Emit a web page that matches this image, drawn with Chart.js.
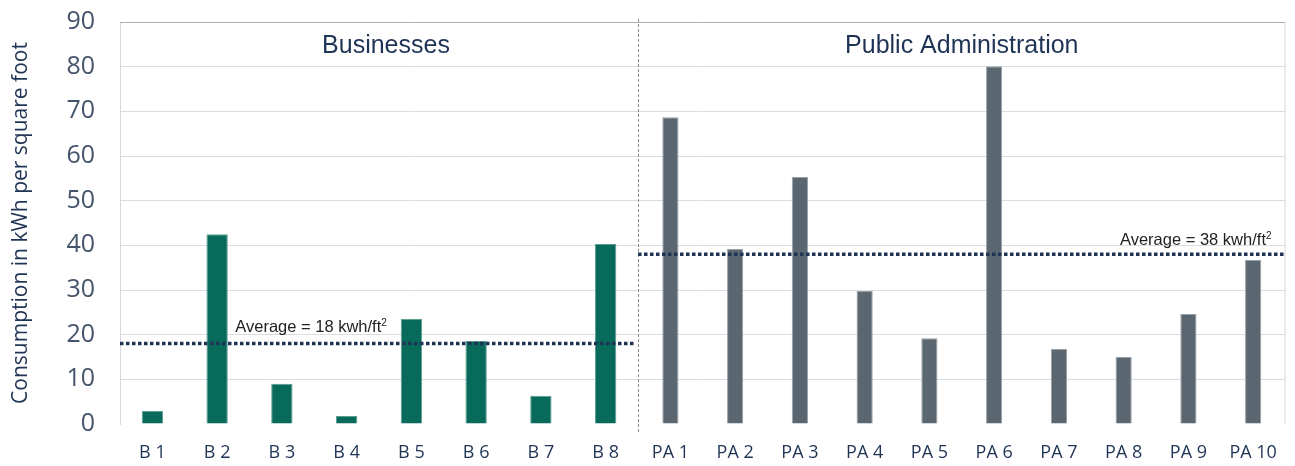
<!DOCTYPE html>
<html>
<head>
<meta charset="utf-8">
<script src="https://cdn.jsdelivr.net/npm/chart.js@4.4.1/dist/chart.umd.min.js"></script>
<style>
  html, body { margin: 0; padding: 0; background: #ffffff; }
  #wrap { width: 1295px; height: 466px; position: relative; }
</style>
</head>
<body>
<div id="wrap"><canvas id="chart" width="1295" height="466"></canvas></div>
<script>
// Buildings and their energy intensity (kWh per square foot)
const categories = ['B 1', 'B 2', 'B 3', 'B 4', 'B 5', 'B 6', 'B 7', 'B 8',
  'PA 1', 'PA 2', 'PA 3', 'PA 4', 'PA 5', 'PA 6', 'PA 7', 'PA 8', 'PA 9', 'PA 10'];
const businessValues = [2.9, 42.5, 9.0, 1.8, 23.5, 18.6, 6.3, 40.3];
const publicAdminValues = [68.7, 39.2, 55.3, 29.8, 19.2, 80.1, 16.8, 15.0, 24.6, 36.7];
const businessAverage = 18;
const publicAdminAverage = 38;
const groupTitles = ['Businesses', 'Public Administration'];
const yTicks = [0, 10, 20, 30, 40, 50, 60, 70, 80, 90];

const nB = businessValues.length;
const businessData = categories.map((c, i) => i < nB ? businessValues[i] : null);
const publicAdminData = categories.map((c, i) => i >= nB ? publicAdminValues[i - nB] : null);

const NAVY = '#1F3455';

// Frame, group divider, group headings and average lines
const overlay = {
  id: 'overlay',
  beforeDatasetsDraw(chart) {
    const { ctx, chartArea: a } = chart;
    ctx.save();
    ctx.lineWidth = 1;
    ctx.strokeStyle = '#A9AFB5';
    ctx.beginPath();
    ctx.moveTo(a.left, a.top + 0.5);
    ctx.lineTo(a.right, a.top + 0.5);
    ctx.stroke();
    ctx.strokeStyle = '#D5D9DD';
    ctx.beginPath();
    ctx.moveTo(a.right - 0.5, a.top);
    ctx.lineTo(a.right - 0.5, a.bottom);
    ctx.stroke();
    ctx.restore();
  },
  afterDatasetsDraw(chart) {
    const { ctx, chartArea: a, scales: { x, y } } = chart;
    const step = x.getPixelForValue(1) - x.getPixelForValue(0);
    const split = x.getPixelForValue(nB - 1) + step / 2;
    ctx.save();

    // divider between the two groups
    ctx.strokeStyle = '#8C8C8C';
    ctx.lineWidth = 1;
    ctx.setLineDash([3, 2]);
    ctx.beginPath();
    ctx.moveTo(Math.round(split) + 0.5, a.top - 3);
    ctx.lineTo(Math.round(split) + 0.5, a.bottom + 9);
    ctx.stroke();

    // average lines
    ctx.strokeStyle = NAVY;
    ctx.lineWidth = 3.5;
    ctx.setLineDash([3.5, 2.5]);
    const yb = y.getPixelForValue(businessAverage);
    ctx.beginPath();
    ctx.moveTo(a.left, yb);
    ctx.lineTo(split - 4, yb);
    ctx.stroke();
    const yp = y.getPixelForValue(publicAdminAverage);
    ctx.beginPath();
    ctx.moveTo(split, yp);
    ctx.lineTo(a.right, yp);
    ctx.stroke();
    ctx.setLineDash([]);

    // average labels
    const drawAvg = (value, xPos, yPos, align) => {
      const main = 'Average = ' + value + ' kwh/ft';
      ctx.font = '16.5px "Liberation Sans", Arial, sans-serif';
      const wMain = ctx.measureText(main).width;
      ctx.font = '10px "Liberation Sans", Arial, sans-serif';
      const wSup = ctx.measureText('2').width;
      const start = align === 'right' ? xPos - wMain - wSup : xPos;
      ctx.fillStyle = '#222222';
      ctx.textAlign = 'left';
      ctx.textBaseline = 'alphabetic';
      ctx.font = '16.5px "Liberation Sans", Arial, sans-serif';
      ctx.fillText(main, start, yPos);
      ctx.font = '10px "Liberation Sans", Arial, sans-serif';
      ctx.fillText('2', start + wMain, yPos - 6);
    };
    drawAvg(businessAverage, x.getPixelForValue(1) + step * 0.28, yb - 12, 'left');
    drawAvg(publicAdminAverage, a.right - 14, yp - 9, 'right');

    // group headings
    ctx.fillStyle = NAVY;
    ctx.font = '25px "Liberation Sans", Arial, sans-serif';
    ctx.textAlign = 'center';
    ctx.textBaseline = 'middle';
    ctx.fillText(groupTitles[0], (a.left + split) / 2 + 7, a.top + 24);
    ctx.fillText(groupTitles[1], (split + a.right) / 2, a.top + 24);
    ctx.restore();
  }
};

new Chart(document.getElementById('chart'), {
  type: 'bar',
  data: {
    labels: categories,
    datasets: [
      {
        label: groupTitles[0],
        data: businessData,
        backgroundColor: '#076A5B',
        borderColor: '#5E9E93',
        borderWidth: 1,
        borderSkipped: 'bottom',
        barPercentage: 0.33,
        categoryPercentage: 1
      },
      {
        label: groupTitles[1],
        data: publicAdminData,
        backgroundColor: '#5B6770',
        borderColor: '#98A1A8',
        borderWidth: 1,
        borderSkipped: 'bottom',
        barPercentage: 0.25,
        categoryPercentage: 1
      }
    ]
  },
  options: {
    responsive: false,
    animation: false,
    events: [],
    layout: { padding: { top: 0, right: 4, left: 0, bottom: 0 } },
    plugins: { legend: { display: false }, tooltip: { enabled: false } },
    datasets: { bar: { grouped: false, skipNull: true } },
    scales: {
      x: {
        grid: { display: false, drawTicks: false },
        border: { display: false },
        ticks: {
          color: NAVY,
          font: { family: '"Open Sans", sans-serif', size: 18 },
          padding: 18,
          maxRotation: 0,
          autoSkip: false
        },
        afterFit(scale) { scale.height = 42; }
      },
      y: {
        min: 0,
        max: 90,
        afterBuildTicks(scale) { scale.ticks = yTicks.map(v => ({ value: v })); },
        grid: {
          drawTicks: true,
          tickLength: 18,
          tickColor: 'rgba(0,0,0,0)',
          lineWidth: 1,
          color: ctx => (ctx.tick && (ctx.tick.value === 0 || ctx.tick.value === 90)) ? 'rgba(0,0,0,0)' : '#D9DDE1'
        },
        border: { display: true, color: '#D5D9DD', width: 1 },
        ticks: {
          color: '#44546A',
          font: { family: '"Open Sans", sans-serif', size: 25 },
          padding: 7
        },
        title: {
          display: true,
          text: 'Consumption in kWh per square foot',
          color: NAVY,
          font: { family: '"Open Sans", sans-serif', size: 21 },
          padding: { top: 8, bottom: 0 }
        },
        afterFit(scale) { scale.width = 120; }
      }
    }
  },
  plugins: [overlay]
});
</script>
</body>
</html>
